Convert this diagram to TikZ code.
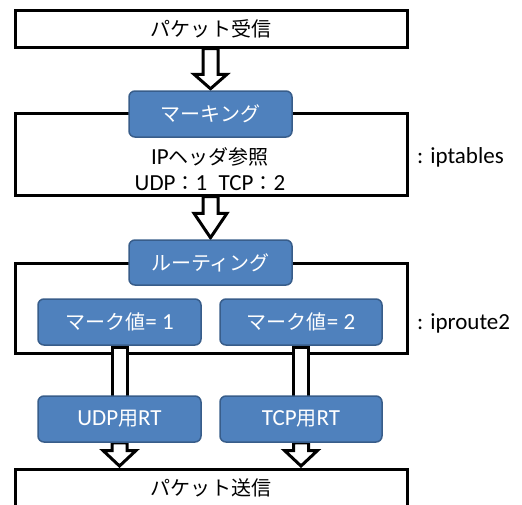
\documentclass[tikz,border=0pt]{standalone}
\usepackage{fontspec}
\setmainfont{Carlito}
\newfontfamily\cjk{Noto Sans CJK JP}[Scale=0.87]
\usetikzlibrary{calc}
\pgfdeclarelayer{back}
\pgfsetlayers{back,main}
\definecolor{bluefill}{RGB}{79,129,189}
\definecolor{blueline}{RGB}{56,93,138}
\tikzset{
  outerbox/.style={draw=black, line width=3pt, fill=white, inner sep=0pt},
  bluebox/.style={draw=blueline, line width=1.5pt, fill=bluefill, rounded corners=6pt,
    text=white, font=\fontsize{23}{26}\selectfont, inner sep=0pt},
  plain/.style={font=\fontsize{23}{26}\selectfont, inner sep=0pt},
  blockarrow/.style={draw=black, line width=3pt, fill=white, line join=miter},
}
\newcommand\barrow[3]{%
  \draw[blockarrow] let \p1=(#1), \p2=(#2) in
    (\x2-7.5pt,\y1) -- (\x2-7.5pt,\y2+#3pt) -- (\x2-16.5pt,\y2+#3pt) -- (\x2,\y2+1.5pt)
    -- (\x2+16.5pt,\y2+#3pt) -- (\x2+7.5pt,\y2+#3pt) -- (\x2+7.5pt,\y1) -- cycle;}
\newcommand\bshaft[2]{%
  \draw[blockarrow] let \p1=(#1), \p2=(#2) in
    (\x2-7.5pt,\y1-1.5pt) rectangle (\x2+7.5pt,\y2-2pt);}
\begin{document}
\begin{tikzpicture}[x=1pt,y=-1pt]
\clip (0,0) rectangle (522,504);
% blue boxes (main layer)
\node[bluebox, minimum width=163pt, minimum height=46pt] (mark) at (210.5,114) {\cjk マーキング};
\node[bluebox, minimum width=163pt, minimum height=45pt] (route) at (210.5,262.5) {\cjk ルーティング};
\node[bluebox, minimum width=163pt, minimum height=46pt] (m1) at (119.5,322) {{\cjk マーク値}= 1};
\node[bluebox, minimum width=162pt, minimum height=46pt] (m2) at (301,322) {{\cjk マーク値}= 2};
\node[bluebox, minimum width=163pt, minimum height=46pt] (udp) at (119.5,419) {UDP{\cjk 用}RT};
\node[bluebox, minimum width=162pt, minimum height=46pt] (tcp) at (301,419) {TCP{\cjk 用}RT};
\begin{pgfonlayer}{back}
\node[outerbox, minimum width=392pt, minimum height=37pt] (recv) at (211,28.5) {};
\node[outerbox, minimum width=392pt, minimum height=82pt] (ipt) at (211,154) {};
\node[outerbox, minimum width=392pt, minimum height=90pt] (iproute) at (211,308) {};
\node[outerbox, minimum width=392pt, minimum height=80pt] (send) at (211,509) {};
\barrow{recv.south}{mark.north}{16}
\barrow{ipt.south}{route.north}{26}
\bshaft{m1.south}{udp.north}
\bshaft{m2.south}{tcp.north}
\barrow{udp.south}{udp.south |- send.north}{17}
\barrow{tcp.south}{tcp.south |- send.north}{17}
\end{pgfonlayer}
\node[plain] (recvt) at (211,29) {\cjk パケット受信};
\node[plain] (hdr) at (210,157) {IP{\cjk ヘッダ参照}};
\node[plain] (mk) at (210,183) {UDP{\cjk ：}1\hspace{0.5em}TCP{\cjk ：}2};
\node[plain, anchor=west] (iptl) at (417,157) {: iptables};
\node[plain, anchor=west] (iprl) at (417,323) {: iproute2};
\node[plain] (sendt) at (211,488) {\cjk パケット送信};
\end{tikzpicture}
\end{document}
